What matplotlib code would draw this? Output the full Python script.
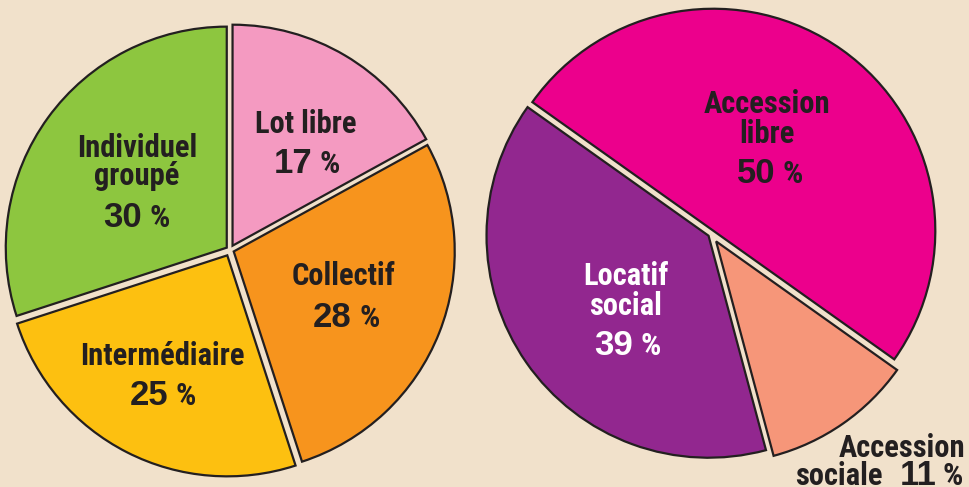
import matplotlib
matplotlib.use("Agg")
import matplotlib.pyplot as plt

W, H = 969, 487

# ---- data ----
left_labels = ["Lot libre", "Collectif", "Intermédiaire", "Individuel groupé"]
left_values = [17, 28, 25, 30]
left_colors = ["#F49AC1", "#F7941D", "#FDC010", "#8DC63F"]

right_labels = ["Accession libre", "Accession sociale", "Locatif social"]
right_values = [50, 11, 39]
right_colors = ["#EC008C", "#F69679", "#92278F"]

BG = "#F1E1CB"
DARK = "#231F20"

NARROW = ["Roboto Condensed", "DejaVu Sans"]
WIDE = ["Liberation Sans", "DejaVu Sans"]

fig = plt.figure(figsize=(W / 100, H / 100), dpi=100, facecolor=BG)
ax = fig.add_axes([0, 0, 1, 1])
ax.set_facecolor(BG)

wp = dict(edgecolor=DARK, linewidth=1.6)
ax.pie(left_values, colors=left_colors, startangle=90, counterclock=False,
       center=(230, H - 250), radius=221, explode=[5, 4, 6, 4],
       wedgeprops=wp)
ax.pie(right_values, colors=right_colors, startangle=144.6, counterclock=False,
       center=(711, H - 234), radius=222, explode=[4, 9, 3],
       wedgeprops=wp)

ax.set_xlim(0, W)
ax.set_ylim(0, H)
ax.set_aspect("equal")
ax.axis("off")

LS = 22     # label font size
NS = 25     # number font size
PS = 23     # percent sign size


def label(x, y, s, color=DARK, size=LS, ha="center"):
    ax.text(x, H - y, s, ha=ha, va="baseline", color=color,
            family=NARROW, fontweight="bold", fontsize=size)


def pct(xr, y, value, color=DARK, gap=8):
    # number right-aligned at xr, percent sign just after
    ax.text(xr, H - y, str(value), ha="right", va="baseline", color=color,
            family=WIDE, fontweight="bold", fontsize=NS)
    ax.text(xr + gap, H - y, "%", ha="left", va="baseline", color=color,
            family=NARROW, fontweight="bold", fontsize=PS)


# left pie labels
label(306, 133, "Lot libre")
pct(312, 173, left_values[0])
label(344, 285, "Collectif")
pct(352, 327, left_values[1])
label(162, 365, "Intermédiaire")
pct(168, 405, left_values[2])
label(137, 157, "Individuel")
label(137, 185, "groupé")
pct(142, 227, left_values[3])

# right pie labels
label(767, 113, "Accession")
label(767, 143, "libre")
pct(775, 183, right_values[0])
label(626, 285, "Locatif", color="white")
label(626, 315, "social", color="white")
pct(633, 355, right_values[2], color="white")

label(965, 457, "Accession", ha="right")
label(883, 485, "sociale", ha="right")
pct(937, 485, right_values[1], gap=6)

fig.savefig("out.png", dpi=100, facecolor=BG)
